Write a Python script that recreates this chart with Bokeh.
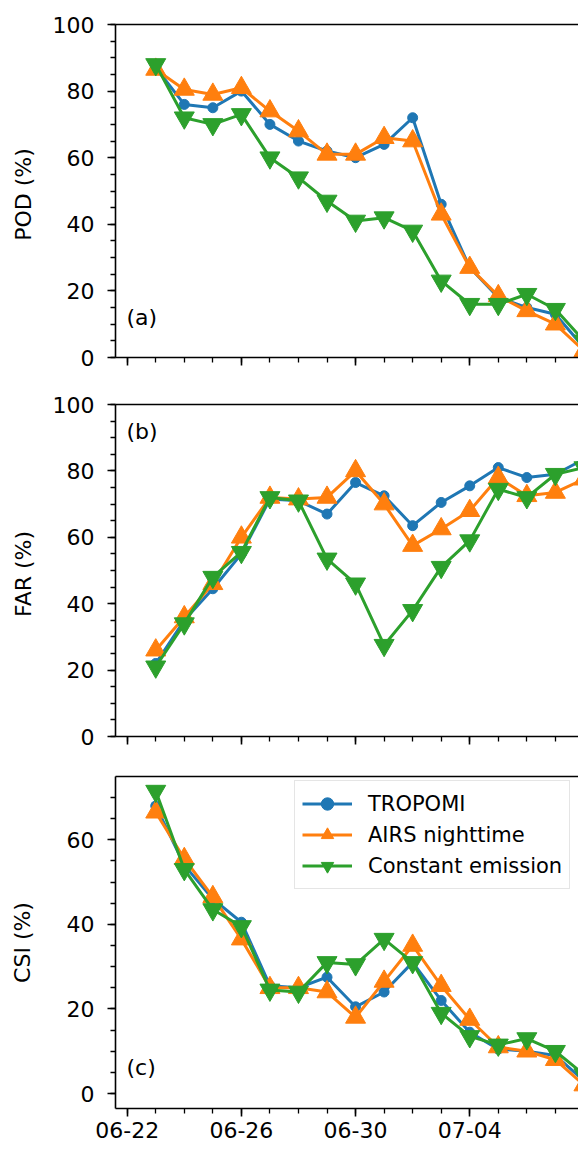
import pandas as pd
from bokeh.plotting import figure
from bokeh.layouts import column
from bokeh.models import (Range1d, FixedTicker, CustomJSTickFormatter, LinearAxis,
                          Label, Legend, LegendItem, ColumnDataSource)
from bokeh.embed import file_html
from bokeh.resources import INLINE

# ---------------- data ----------------
dates = ["2021-06-23", "2021-06-24", "2021-06-25", "2021-06-26", "2021-06-27",
         "2021-06-28", "2021-06-29", "2021-06-30", "2021-07-01", "2021-07-02",
         "2021-07-03", "2021-07-04", "2021-07-05", "2021-07-06", "2021-07-07",
         "2021-07-08"]

series_names = ["TROPOMI", "AIRS nighttime", "Constant emission"]

tropomi_pod = [87, 76, 75, 80, 70, 65, 62, 60, 64, 72, 46, 27, 18, 15, 13, 3]
airs_pod = [86.5, 80.5, 79, 81, 74, 68, 61, 61, 66, 65, 43, 27, 18.5, 14, 10, 2]
const_pod = [88, 72, 70, 73, 60, 54, 47, 41, 42, 38, 23, 16, 16, 19, 14.5, 5]

tropomi_far = [22, 35, 44.5, 55, 71.5, 71, 67, 76.5, 72.5, 63.5, 70.5, 75.5, 81, 78, 79, 83.5]
airs_far = [26, 36, 46, 60, 72, 71.5, 72, 80, 70, 57.5, 62.5, 68, 78, 72.5, 73.5, 77.5]
const_far = [21, 34, 48, 55.5, 72, 71, 53.5, 46, 27.5, 38, 51, 59, 74.5, 72, 79, 81]

tropomi_csi = [68, 54, 46, 40.5, 25.5, 25, 27.5, 20.5, 24, 31, 22, 14.5, 10.5, 10, 9, 3]
airs_csi = [66.5, 55.5, 46.5, 36.5, 25, 25, 24, 18, 26.5, 35, 25.5, 17.5, 11, 10, 8, 2]
const_csi = [71.5, 53, 43.5, 39.5, 24.5, 24, 31, 30.5, 36.5, 31, 19, 13.5, 11.5, 13, 10, 4.5]

major_tick_dates = ["2021-06-22", "2021-06-26", "2021-06-30", "2021-07-04", "2021-07-08"]
minor_tick_dates = ["2021-06-22", "2021-06-23", "2021-06-24", "2021-06-25", "2021-06-26",
                    "2021-06-27", "2021-06-28", "2021-06-29", "2021-06-30", "2021-07-01",
                    "2021-07-02", "2021-07-03", "2021-07-04", "2021-07-05", "2021-07-06",
                    "2021-07-07", "2021-07-08"]

y_labels = ["POD  (%)", "FAR  (%)", "CSI (%)"]
panel_labels = ["(a)", "(b)", "(c)"]

# ---------------- style ----------------
colors = ["#1f77b4", "#ff7f0e", "#2ca02c"]
markers = ["circle", "triangle", "inverted_triangle"]
msizes = [10, 20, 20]
FONT = "DejaVu Sans"

x = pd.to_datetime(dates)
EPOCH = pd.Timestamp("1970-01-01")


def to_ms(d):
    return (pd.Timestamp(d) - EPOCH) / pd.Timedelta(milliseconds=1)


x_range = Range1d(pd.Timestamp("2021-06-22") - pd.Timedelta(hours=0.41 * 24),
                  pd.Timestamp("2021-06-22") + pd.Timedelta(hours=15.81 * 24))

date_fmt = CustomJSTickFormatter(code="""
const d = new Date(tick);
const m = String(d.getUTCMonth() + 1).padStart(2, '0');
const dd = String(d.getUTCDate()).padStart(2, '0');
return m + '-' + dd;
""")
blank_fmt = CustomJSTickFormatter(code="return '';")


def style_axis(ax):
    ax.axis_line_color = "black"
    ax.axis_line_width = 1.6
    ax.major_tick_line_color = "black"
    ax.major_tick_line_width = 1.6
    ax.minor_tick_line_color = "black"
    ax.minor_tick_line_width = 1.3
    ax.major_tick_out = 8
    ax.major_tick_in = 0
    ax.minor_tick_out = 5
    ax.minor_tick_in = 0
    ax.major_label_text_font = FONT
    ax.major_label_text_font_size = "22px"
    ax.major_label_text_color = "black"
    ax.axis_label_text_font = FONT
    ax.axis_label_text_font_size = "22px"
    ax.axis_label_text_font_style = "normal"
    ax.axis_label_text_color = "black"


def make_fig(series, y_start, y_end, yticks, yminor, ylabel, plabel, label_y,
             top, fh, bottom, show_x, ylab_standoff):
    p = figure(frame_width=463, frame_height=fh, x_range=x_range,
               y_range=Range1d(y_start, y_end), x_axis_type="datetime",
               output_backend="svg", toolbar_location=None,
               min_border_left=115, min_border_right=0,
               min_border_top=top, min_border_bottom=bottom)
    p.outline_line_color = None
    p.xgrid.visible = False
    p.ygrid.visible = False
    p.background_fill_color = "white"
    p.border_fill_color = "white"

    xa = p.below[0]
    style_axis(xa)
    xa.ticker = FixedTicker(ticks=[to_ms(d) for d in major_tick_dates],
                            minor_ticks=[to_ms(d) for d in minor_tick_dates])
    xa.formatter = date_fmt if show_x else blank_fmt
    xa.major_label_standoff = 5

    ya = p.left[0]
    style_axis(ya)
    ya.ticker = FixedTicker(ticks=yticks, minor_ticks=yminor)
    ya.major_label_standoff = 13
    ya.axis_label = ylabel
    ya.axis_label_standoff = ylab_standoff

    top_axis = LinearAxis(ticker=FixedTicker(ticks=[]), formatter=blank_fmt)
    top_axis.axis_line_color = "black"
    top_axis.axis_line_width = 1.6
    top_axis.major_tick_out = 0
    top_axis.minor_tick_out = 0
    top_axis.major_tick_in = 0
    top_axis.minor_tick_in = 0
    p.add_layout(top_axis, "above")

    items = []
    for name, ys, c, m, s in zip(series_names, series, colors, markers, msizes):
        src = ColumnDataSource(dict(x=x, y=ys))
        r1 = p.line("x", "y", source=src, line_color=c, line_width=3)
        r2 = p.scatter("x", "y", source=src, marker=m, size=s,
                       fill_color=c, line_color=c, line_width=1)
        items.append(LegendItem(label=name, renderers=[r1, r2]))

    p.add_layout(Label(x=11, y=label_y, x_units="screen", y_units="screen",
                       text=plabel, text_font=FONT, text_font_size="22px",
                       text_baseline="alphabetic", text_color="black"))
    return p, items


ticks100 = [0, 20, 40, 60, 80, 100]
minor100 = list(range(0, 101, 5))

f1, _ = make_fig([tropomi_pod, airs_pod, const_pod], 0, 100, ticks100, minor100,
                 y_labels[0], panel_labels[0], 40.5, 24, 333, 24, False, 14)
f2, _ = make_fig([tropomi_far, airs_far, const_far], 0, 100, ticks100, minor100,
                 y_labels[1], panel_labels[1], 305.5, 23, 332, 20, False, 14)
f3, items3 = make_fig([tropomi_csi, airs_csi, const_csi], -3.54, 74.95,
                      [0, 20, 40, 60], list(range(0, 71, 5)),
                      y_labels[2], panel_labels[2], 41, 20, 332, 41, True, 29)

legend = Legend(items=items3, location=(179, 219))
legend.label_text_font = FONT
legend.label_text_font_size = "21px"
legend.label_text_color = "black"
legend.glyph_width = 50
legend.glyph_height = 31
legend.label_height = 31
legend.spacing = 0
legend.padding = 7
legend.label_standoff = 16
legend.border_line_color = "#cccccc"
legend.border_line_width = 1.5
legend.background_fill_color = "white"
legend.background_fill_alpha = 0.8
f3.add_layout(legend)

layout = column(f1, f2, f3, spacing=0)

open("out.html", "w").write(file_html(layout, INLINE))
